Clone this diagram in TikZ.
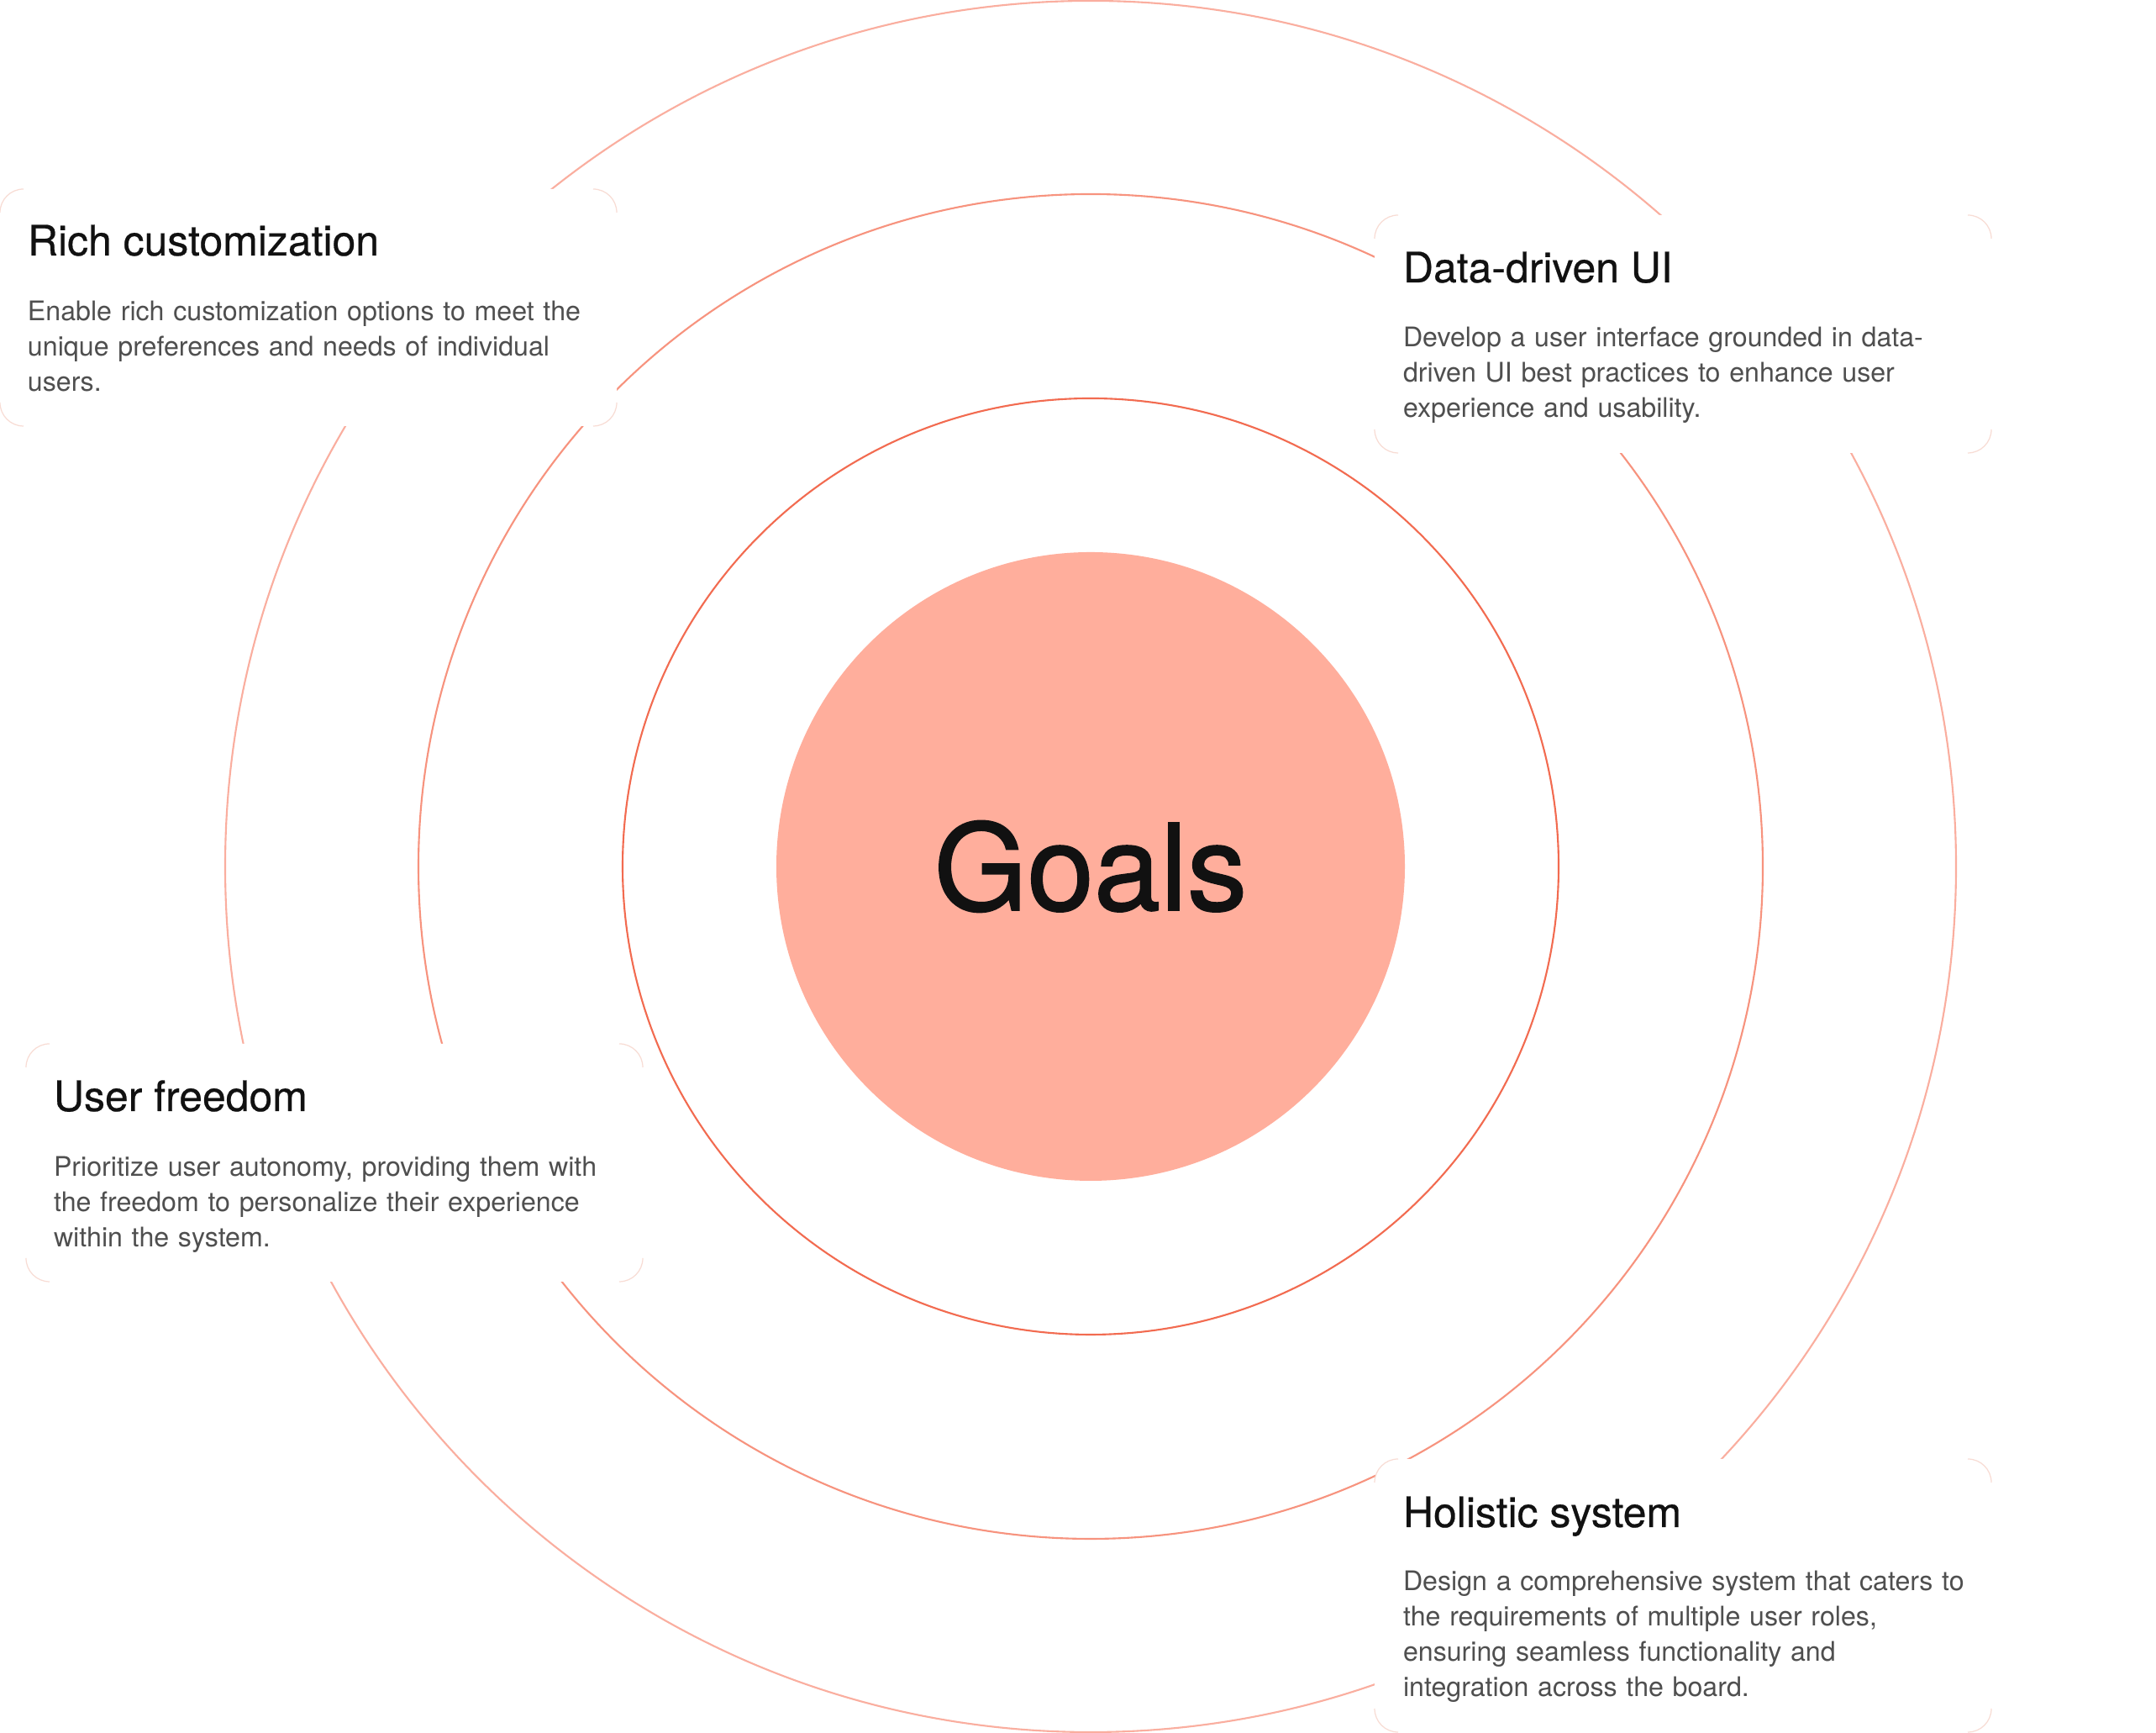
\documentclass[tikz,border=0pt]{standalone}
\usepackage{fontspec}
\setmainfont{TeX Gyre Heros}
\newfontfamily\headfont[FakeBold=0.5]{TeX Gyre Heros}
\newfontfamily\goalfont[FakeBold=1.2]{TeX Gyre Heros}
\usetikzlibrary{positioning}

\definecolor{goalfill}{HTML}{FFAE9C}
\definecolor{ringA}{HTML}{F26B50}
\definecolor{ringB}{HTML}{F7937E}
\definecolor{ringC}{HTML}{FAAE9F}
\definecolor{cornerline}{HTML}{F8DCD4}
\definecolor{headtext}{HTML}{111111}
\definecolor{bodytext}{HTML}{4F4F4F}

\begin{document}
\begin{tikzpicture}[
        every node/.style={inner sep=0pt, outer sep=0pt},
        core/.style={circle, fill=goalfill, minimum size=7.48cm, text=headtext, font=\goalfont\fontsize{40.6}{44}\selectfont},
        ringin/.style={draw=ringA, line width=0.6pt},
        ringmid/.style={draw=ringB, line width=0.6pt},
        ringout/.style={draw=ringC, line width=0.6pt},
        card/.style={rectangle, fill=white, rounded corners=2.8mm, anchor=north west, minimum width=7.34cm},
        head/.style={anchor=base west, text=headtext, font=\headfont\fontsize{14.2}{17}\selectfont},
        body/.style={anchor=base west, text width=7cm, align=left, text=bodytext, font=\fontsize{9.15}{11.9}\selectfont},
        corner/.style={draw=cornerline, line width=0.35pt}
    ]

    \useasboundingbox[fill=white] (0,0) rectangle (25.66,20.62);

    % Centre
    \node[core] (goals) at (12.98,10.31) {Goals};

    % Rings
    \draw[ringin] (goals.center) circle[radius=5.57cm];
    \draw[ringmid] (goals.center) circle[radius=8.00cm];
    \draw[ringout] (goals.center) circle[radius=10.30cm];

    % Cards
    \node[card, minimum height=2.82cm] (rich) at (0,18.37) {};
    \node[card, minimum height=2.83cm] (data) at (16.36,18.06) {};
    \node[card, minimum height=2.83cm] (freedom) at (0.31,8.20) {};
    \node[card, minimum height=3.25cm] (holistic) at (16.36,3.26) {};

    % Card corners
    \foreach \b in {rich,data,freedom,holistic}{
        \draw[corner] ([yshift=-2.8mm]\b.north west) arc[start angle=180, end angle=90, radius=2.8mm];
        \draw[corner] ([xshift=-2.8mm]\b.north east) arc[start angle=90, end angle=0, radius=2.8mm];
        \draw[corner] ([yshift=2.8mm]\b.south east) arc[start angle=0, end angle=-90, radius=2.8mm];
        \draw[corner] ([xshift=2.8mm]\b.south west) arc[start angle=270, end angle=180, radius=2.8mm];
    }

    % Rich customization
    \node[head] (richhead) at ([shift={(3.3mm,-7.9mm)}]rich.north west) {Rich customization};
    \node[body] (richbody) at ([yshift=-7.8mm]richhead.base west) {Enable rich customization options to meet the\\unique preferences and needs of individual\\users.};

    % Data-driven UI
    \node[head] (datahead) at ([shift={(3.4mm,-8mm)}]data.north west) {Data-driven UI};
    \node[body] (databody) at ([yshift=-7.7mm]datahead.base west) {Develop a user interface grounded in data-\\driven UI best practices to enhance user\\experience and usability.};

    % User freedom
    \node[head] (freedomhead) at ([shift={(3.3mm,-8mm)}]freedom.north west) {User freedom};
    \node[body] (freedombody) at ([yshift=-7.8mm]freedomhead.base west) {Prioritize user autonomy, providing them with\\the freedom to personalize their experience\\within the system.};

    % Holistic system
    \node[head] (holistichead) at ([shift={(3.4mm,-8.1mm)}]holistic.north west) {Holistic system};
    \node[body] (holisticbody) at ([yshift=-7.6mm]holistichead.base west) {Design a comprehensive system that caters to\\the requirements of multiple user roles,\\ensuring seamless functionality and\\integration across the board.};

\end{tikzpicture}
\end{document}
